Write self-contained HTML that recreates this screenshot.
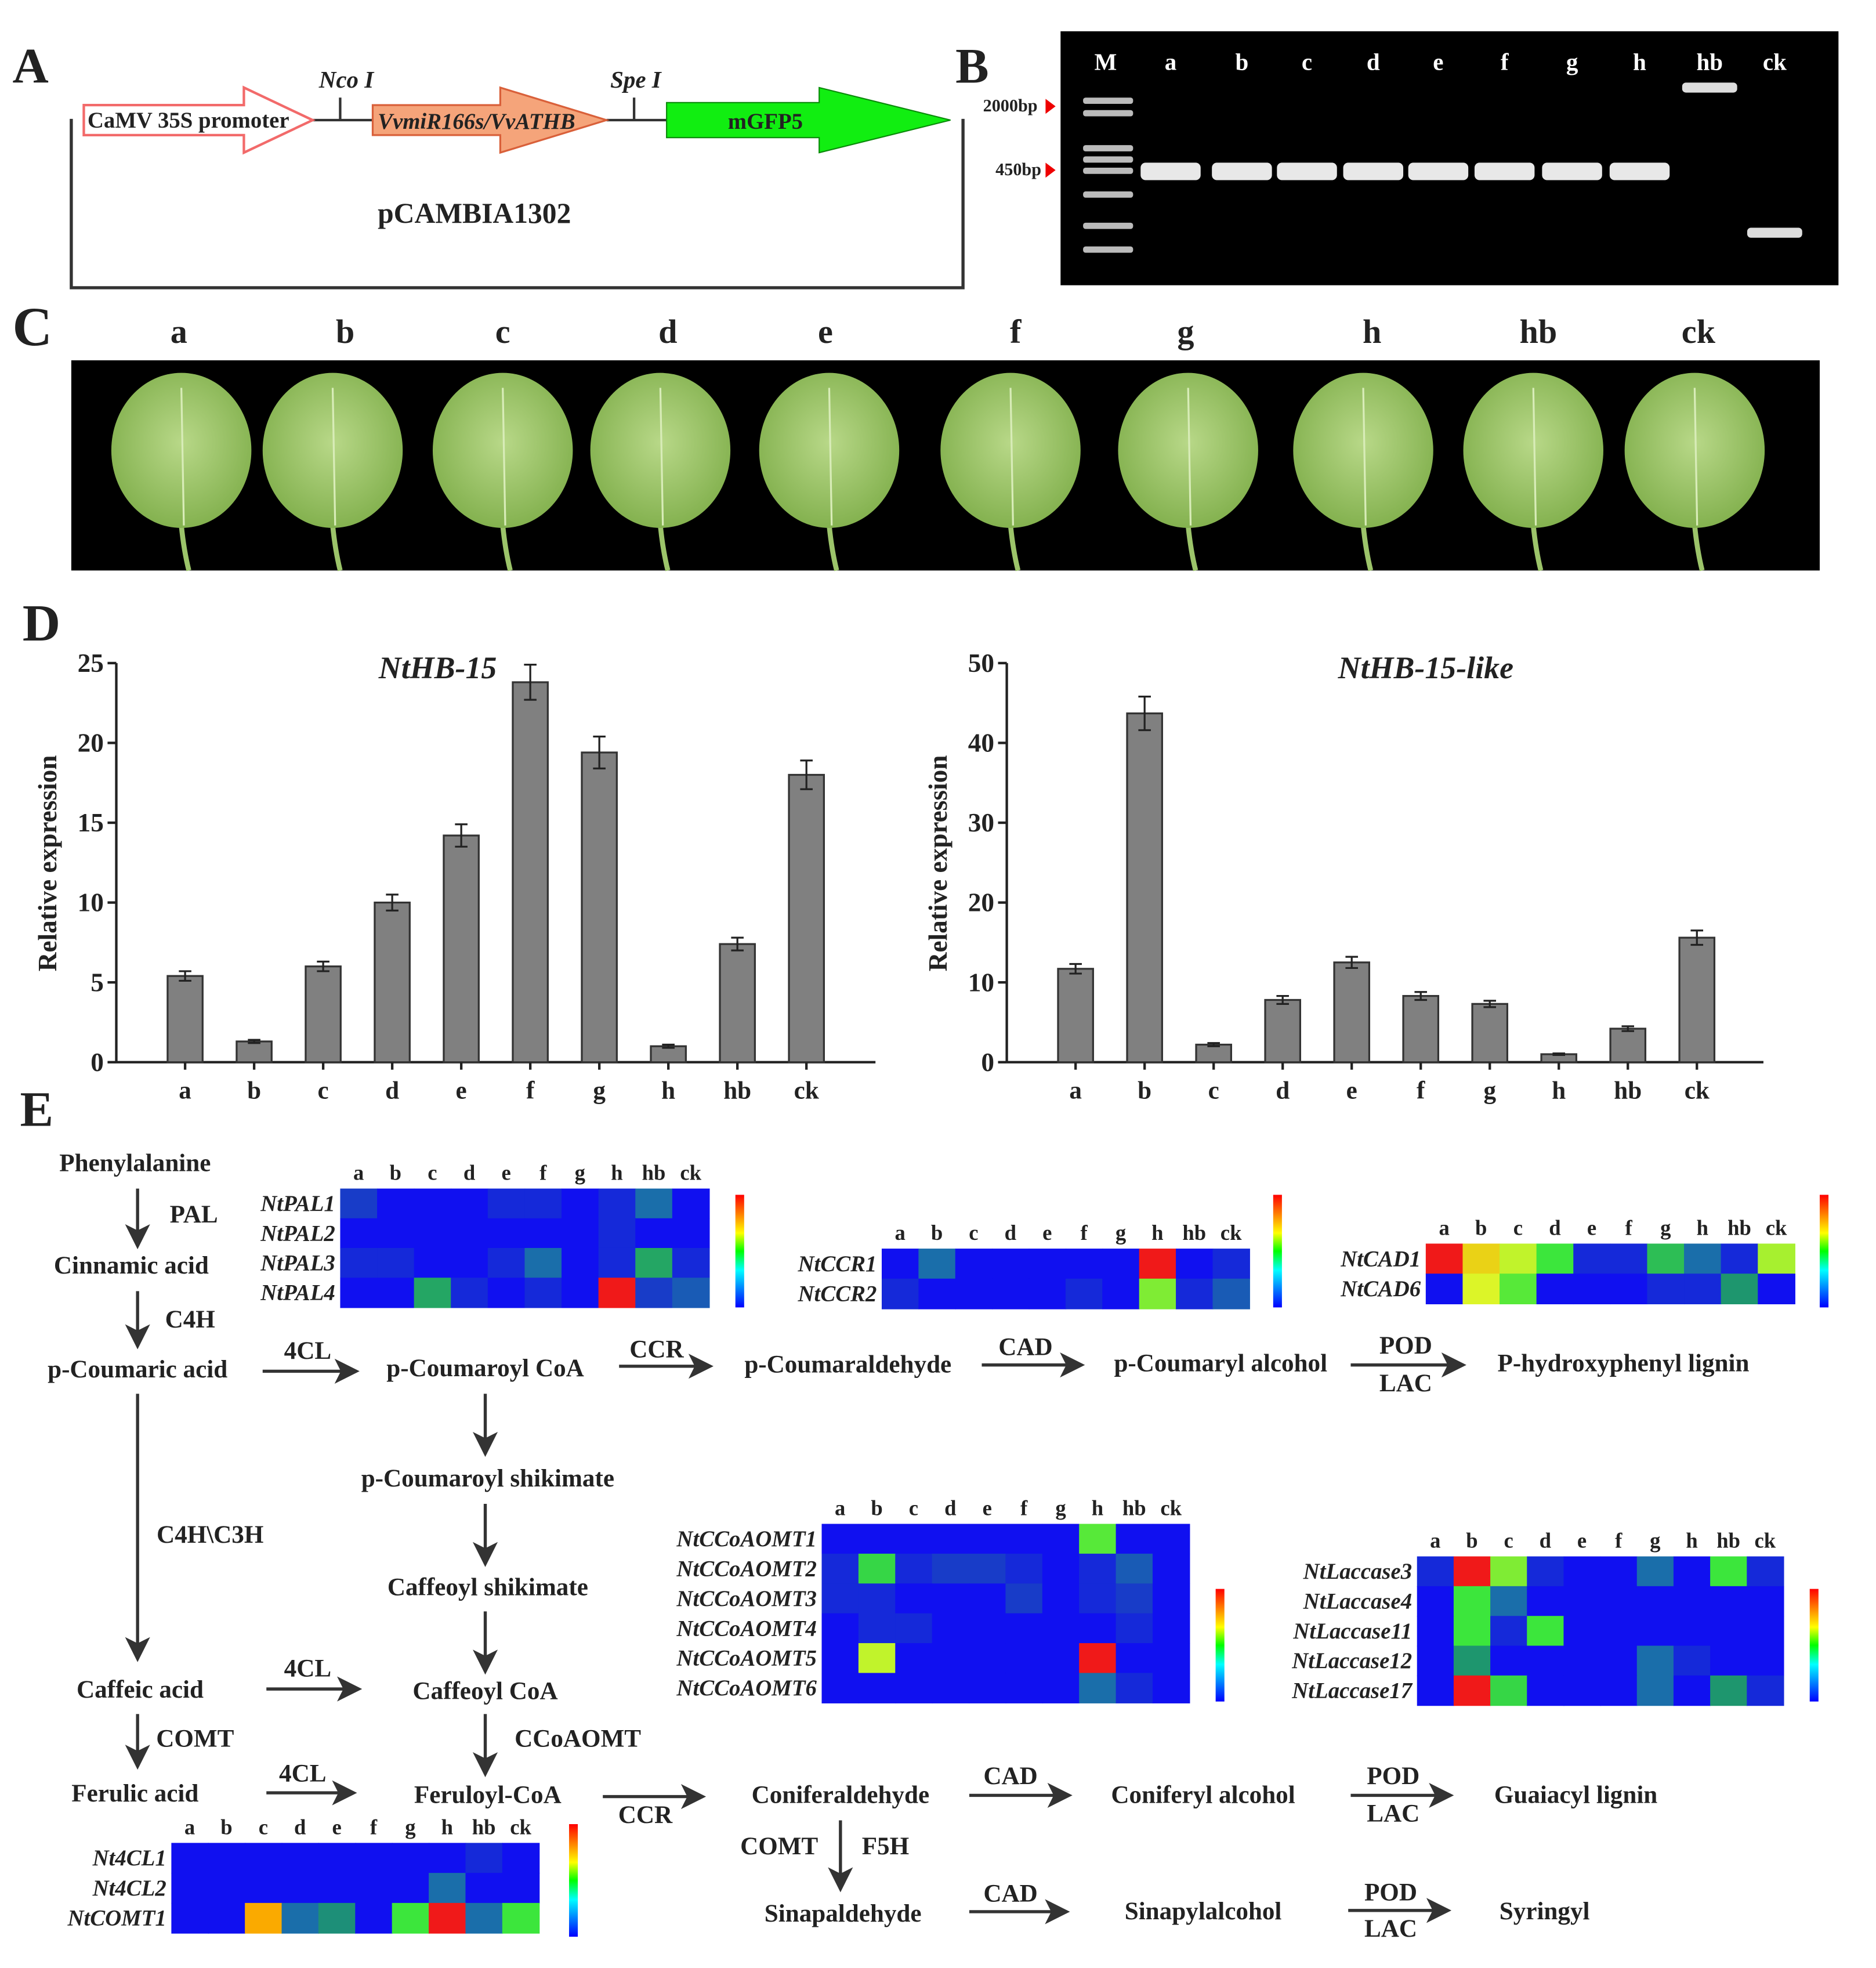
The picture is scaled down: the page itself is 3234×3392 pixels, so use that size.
<!DOCTYPE html>
<html><head><meta charset="utf-8"><style>
html,body{margin:0;padding:0;background:#fff}
svg{display:block}
text{font-family:"Liberation Serif",serif;font-weight:bold;fill:#222}
</style></head><body>
<svg id="fig" width="3234" height="3392" viewBox="0 0 1500 1573" preserveAspectRatio="none" xmlns="http://www.w3.org/2000/svg">
<defs>
<marker id="ah" markerWidth="8" markerHeight="8" refX="7" refY="4" orient="auto"><path d="M0,0 L8,4 L0,8 L2,4z" fill="#333"/></marker>
<radialGradient id="leafg" cx="50%" cy="45%" r="60%"><stop offset="0" stop-color="#b8d888"/><stop offset="1" stop-color="#7fae4a"/></radialGradient>
<linearGradient id="cbar" x1="0" y1="1" x2="0" y2="0"><stop offset="0" stop-color="#00f"/><stop offset="0.33" stop-color="#0ff"/><stop offset="0.5" stop-color="#0f0"/><stop offset="0.66" stop-color="#ff0"/><stop offset="1" stop-color="#f00"/></linearGradient>
</defs>
<g>
<text x="10" y="66" font-size="40">A</text>
<path d="M57,95 V230 H770 V95" fill="none" stroke="#333" stroke-width="2.5"/>
<line x1="250" y1="96" x2="298" y2="96" stroke="#333" stroke-width="2"/>
<line x1="485" y1="96" x2="533" y2="96" stroke="#333" stroke-width="2"/>
<line x1="272" y1="78" x2="272" y2="96" stroke="#333" stroke-width="2"/>
<line x1="507" y1="78" x2="507" y2="96" stroke="#333" stroke-width="2"/>
<text x="255" y="70" font-size="19" font-style="italic">Nco I</text>
<text x="488" y="70" font-size="19" font-style="italic">Spe I</text>
<path d="M67,84 H195 V70 L250,96 L195,122 V108 H67z" fill="#fff" stroke="#f26a6a" stroke-width="2"/>
<text x="70" y="102" font-size="18">CaMV 35S promoter</text>
<path d="M298,84 H400 V70 L485,96 L400,122 V108 H298z" fill="#f5a47a" stroke="#d9603a" stroke-width="1.5"/>
<text x="302" y="103" font-size="18" font-style="italic">VvmiR166s/VvATHB</text>
<path d="M533,82 H655 V70 L760,96 L655,122 V110 H533z" fill="#11ee11" stroke="#0a8a0a" stroke-width="1"/>
<text x="582" y="103" font-size="18">mGFP5</text>
<text x="302" y="178" font-size="23">pCAMBIA1302</text>
</g>
<g id="gel">
<text x="764" y="66" font-size="40">B</text>
<rect x="848" y="25" width="622" height="203" fill="#000"/>
<text x="786" y="89" font-size="14">2000bp</text>
<text x="796" y="140" font-size="14">450bp</text>
<path d="M836,79 l8,6 l-8,6z M836,130 l8,6 l-8,6z" fill="#e00"/>
</g>
<g id="leaves">
<text x="10" y="276" font-size="44">C</text>
<rect x="57" y="288" width="1398" height="168" fill="#000"/>
</g>
<g id="panelD">
<text x="18" y="512" font-size="42">D</text>
</g>
<g id="panelE">
<text x="16" y="900" font-size="40">E</text>
</g>
</svg>
<script>
const NS="http://www.w3.org/2000/svg";
function mk(parent,tag,attrs,txt){const e=document.createElementNS(NS,tag);for(const k in attrs)e.setAttribute(k,attrs[k]);if(txt!==undefined)e.textContent=txt;parent.appendChild(e);return e;}

const gelLanes=["M","a","b","c","d","e","f","g","h","hb","ck"];
const gelX=[884,936,993,1045,1098,1150,1203,1257,1311,1367,1419];
const gel=document.getElementById('gel');
gelLanes.forEach((l,i)=>{
  const t=mk(gel,'text',{x:gelX[i],y:56,'font-size':19,'text-anchor':'middle',style:'fill:#fff'},l);
  
  
  if(i===0){[78,88,116,125,134,153,178,197].forEach(y=>{mk(gel,'rect',{x:866,y:y,width:40,height:5,fill:'#bbb',rx:2});});}
  else if(l==='hb'){mk(gel,'rect',{x:gelX[i]-22,y:66,width:44,height:8,fill:'#ddd',rx:3});}
  else if(l==='ck'){mk(gel,'rect',{x:gelX[i]-22,y:182,width:44,height:8,fill:'#ddd',rx:3});}
  else {mk(gel,'rect',{x:gelX[i]-24,y:130,width:48,height:14,fill:'#e8e8e8',rx:4});}
});

const leafLabels=["a","b","c","d","e","f","g","h","hb","ck"];
const leafLabelX=[143,276,402,534,660,812,948,1097,1230,1358];
const leafX=[145,266,402,528,663,808,950,1090,1226,1355];
const lv=document.getElementById('leaves');
leafLabels.forEach((l,i)=>{
  const t=mk(lv,'text',{x:leafLabelX[i],y:274,'font-size':27,'text-anchor':'middle'},l);
  
  
  const cx=leafX[i];
  mk(lv,'path',{d:`M${cx},420 Q${cx+2},440 ${cx+6},456`,stroke:'#9cc46a','stroke-width':4,fill:'none'});
  const e=mk(lv,'ellipse',{cx:cx,cy:360,rx:56,ry:62,fill:'url(#leafg)'});
  
  
  mk(lv,'line',{x1:cx,y1:310,x2:cx+2,y2:420,stroke:'#d8ecb8','stroke-width':1.5});
});

const cats=["a","b","c","d","e","f","g","h","hb","ck"];
const hb15=[5.4,1.3,6.0,10.0,14.2,23.8,19.4,1.0,7.4,18.0];
const hb15Err=[0.3,0.1,0.3,0.5,0.7,1.1,1.0,0.1,0.4,0.9];
const hb15Ticks=[0,5,10,15,20,25];
const hb15like=[11.7,43.7,2.2,7.8,12.5,8.3,7.3,1.0,4.2,15.6];
const hb15likeErr=[0.6,2.1,0.2,0.5,0.7,0.5,0.4,0.1,0.3,0.9];
const hb15likeTicks=[0,10,20,30,40,50];

const D=document.getElementById('panelD');
function barChart(cfg){
  const g=mk(D,'g',{});
  
  
  const x0=cfg.x0,x1=cfg.x1,yb=849,yt=530,max=cfg.ticks[cfg.ticks.length-1];
  const ys=v=>yb-(v/max)*(yb-yt);
  const xs=i=>x0+55+i*55.2;
  mk(g,'line',{x1:x0,y1:yt,x2:x0,y2:yb,stroke:'#222','stroke-width':2});
  mk(g,'line',{x1:x0,y1:yb,x2:x1,y2:yb,stroke:'#222','stroke-width':2});
  cfg.ticks.forEach(t=>{
    mk(g,'line',{x1:x0-7,y1:ys(t),x2:x0,y2:ys(t),stroke:'#222','stroke-width':2});
    const tl=mk(g,'text',{x:x0-10,y:ys(t)+7,'font-size':21,'text-anchor':'end'},t);
    
    
  });
  cats.forEach((c,i)=>{
    const v=cfg.vals[i],e=cfg.errs[i],cx=xs(i);
    const b=mk(g,'rect',{x:cx-14,y:ys(v),width:28,height:yb-ys(v),fill:'#808080',stroke:'#333','stroke-width':1.5});
    
    
    mk(g,'path',{d:`M${cx},${ys(v+e)}V${ys(v-e)}M${cx-5},${ys(v+e)}H${cx+5}M${cx-5},${ys(v-e)}H${cx+5}`,stroke:'#222','stroke-width':1.5,fill:'none'});
    mk(g,'line',{x1:cx,y1:yb,x2:cx,y2:yb+6,stroke:'#222','stroke-width':2});
    const xl=mk(g,'text',{x:cx,y:878,'font-size':20,'text-anchor':'middle'},c);
    
    
  });
  const tt=mk(g,'text',{x:cfg.tx,y:542,'font-size':25,'font-style':'italic','text-anchor':'middle'},cfg.title);
  
  
  const yl=mk(g,'text',{x:0,y:0,'font-size':21,'text-anchor':'middle',transform:`translate(${x0-48},690) rotate(-90)`},'Relative expression');
  
  
}
barChart({name:'nthb15-chart',x0:93,x1:700,ticks:hb15Ticks,vals:hb15,errs:hb15Err,title:'NtHB-15',tx:350});
barChart({name:'nthb15like-chart',x0:805,x1:1410,ticks:hb15likeTicks,vals:hb15like,errs:hb15likeErr,title:'NtHB-15-like',tx:1140});

const palGenes=["NtPAL1","NtPAL2","NtPAL3","NtPAL4"];
const palVals=[[0.2,0.13,0.13,0.13,0.17,0.17,0.13,0.17,0.28,0.13],[0.13,0.13,0.13,0.13,0.13,0.13,0.13,0.17,0.13,0.13],[0.17,0.17,0.13,0.13,0.17,0.28,0.13,0.17,0.42,0.17],[0.13,0.13,0.42,0.17,0.13,0.17,0.13,0.88,0.2,0.25]];
const ccrGenes=["NtCCR1","NtCCR2"];
const ccrVals=[[0.13,0.28,0.13,0.13,0.13,0.13,0.13,0.88,0.13,0.17],[0.17,0.13,0.13,0.13,0.13,0.17,0.13,0.55,0.17,0.25]];
const cadGenes=["NtCAD1","NtCAD6"];
const cadVals=[[0.88,0.68,0.6,0.5,0.17,0.17,0.45,0.28,0.17,0.58],[0.13,0.62,0.52,0.13,0.13,0.13,0.17,0.17,0.4,0.13]];
const omtGenes=["NtCCoAOMT1","NtCCoAOMT2","NtCCoAOMT3","NtCCoAOMT4","NtCCoAOMT5","NtCCoAOMT6"];
const omtVals=[[0.13,0.13,0.13,0.13,0.13,0.13,0.13,0.52,0.13,0.13],[0.17,0.48,0.17,0.2,0.2,0.17,0.13,0.17,0.25,0.13],[0.17,0.17,0.13,0.13,0.13,0.2,0.13,0.17,0.2,0.13],[0.13,0.17,0.17,0.13,0.13,0.13,0.13,0.13,0.17,0.13],[0.13,0.6,0.13,0.13,0.13,0.13,0.13,0.88,0.13,0.13],[0.13,0.13,0.13,0.13,0.13,0.13,0.13,0.28,0.17,0.13]];
const lacGenes=["NtLaccase3","NtLaccase4","NtLaccase11","NtLaccase12","NtLaccase17"];
const lacVals=[[0.17,0.88,0.55,0.17,0.13,0.13,0.28,0.13,0.5,0.17],[0.13,0.5,0.28,0.13,0.13,0.13,0.13,0.13,0.13,0.13],[0.13,0.5,0.17,0.5,0.13,0.13,0.13,0.13,0.13,0.13],[0.13,0.4,0.13,0.13,0.13,0.13,0.28,0.17,0.13,0.13],[0.13,0.88,0.48,0.13,0.13,0.13,0.28,0.13,0.4,0.17]];
const clGenes=["Nt4CL1","Nt4CL2","NtCOMT1"];
const clVals=[[0.13,0.13,0.13,0.13,0.13,0.13,0.13,0.13,0.17,0.13],[0.13,0.13,0.13,0.13,0.13,0.13,0.13,0.28,0.13,0.13],[0.13,0.13,0.75,0.28,0.38,0.13,0.5,0.88,0.28,0.5]];

const E=document.getElementById('panelE');
const cmStops=[[0.13,[16,16,240]],[0.2,[24,60,200]],[0.28,[26,110,170]],[0.4,[30,150,110]],[0.5,[60,230,60]],[0.62,[220,245,40]],[0.75,[250,170,0]],[0.88,[240,25,25]]];
function cmap(v){
  if(v<=cmStops[0][0])return `rgb(${cmStops[0][1]})`;
  for(let k=1;k<cmStops.length;k++){
    if(v<=cmStops[k][0]){const a=cmStops[k-1],b=cmStops[k],t=(v-a[0])/(b[0]-a[0]);
      return `rgb(${a[1].map((c,j)=>Math.round(c+(b[1][j]-c)*t)).join(',')})`;}
  }
  return `rgb(${cmStops[cmStops.length-1][1]})`;
}
function heatmap(name,genes,vals,x,y,w,h,cbx,cby,cbh){
  const g=mk(E,'g',{});
  
  
  const cw=w/10,rh=h/genes.length;
  cats.forEach((c,j)=>{const t=mk(g,'text',{x:x+cw*(j+0.5),y:y-7,'font-size':17,'text-anchor':'middle'},c);
    
    });
  genes.forEach((gn,i)=>{
    const t=mk(g,'text',{x:x-4,y:y+rh*(i+0.5)+6,'font-size':18,'font-style':'italic','text-anchor':'end'},gn);
    
    
    vals[i].forEach((v,j)=>{
      const r=mk(g,'rect',{x:x+cw*j,y:y+rh*i,width:cw+0.5,height:rh+0.5,fill:cmap(v)});
      
      
    });
  });
  const cb=mk(g,'rect',{x:cbx,y:cby,width:7,height:cbh,fill:'url(#cbar)'});
  
  
}
heatmap('pal-heatmap',palGenes,palVals,272,950,295,95,588,955,90);
heatmap('ccr-heatmap',ccrGenes,ccrVals,705,998,294,48,1018,955,90);
heatmap('cad-heatmap',cadGenes,cadVals,1140,994,295,48,1455,955,90);
heatmap('ccoaomt-heatmap',omtGenes,omtVals,657,1218,294,143,972,1270,90);
heatmap('laccase-heatmap',lacGenes,lacVals,1133,1244,293,119,1447,1270,90);
heatmap('4cl-comt-heatmap',clGenes,clVals,137,1473,294,72,455,1458,90);

const labels=[
 ["Phenylalanine",108,936],["Cinnamic acid",105,1018],["p-Coumaric acid",110,1101],["p-Coumaroyl CoA",388,1100],
 ["p-Coumaraldehyde",678,1097],["p-Coumaryl alcohol",976,1096],["P-hydroxyphenyl lignin",1298,1096],
 ["p-Coumaroyl shikimate",390,1188],["Caffeoyl shikimate",390,1275],["Caffeic acid",112,1357],["Caffeoyl CoA",388,1358],
 ["Ferulic acid",108,1440],["Feruloyl-CoA",390,1441],["Coniferaldehyde",672,1441],["Coniferyl alcohol",962,1441],
 ["Guaiacyl lignin",1260,1441],["Sinapaldehyde",674,1536],["Sinapylalcohol",962,1534],["Syringyl",1235,1534],
 ["PAL",155,977],["C4H",152,1061],["4CL",246,1086],["CCR",525,1085],["CAD",820,1083],["POD",1124,1082],["LAC",1124,1112],
 ["C4H\\C3H",168,1233],["4CL",246,1340],["COMT",156,1396],["CCoAOMT",462,1396],["4CL",242,1424],["CCR",516,1457],
 ["CAD",808,1426],["POD",1114,1426],["LAC",1114,1456],["COMT",623,1482],["F5H",708,1482],["CAD",808,1520],["POD",1112,1519],["LAC",1112,1548]
];
labels.forEach(l=>{const t=mk(E,'text',{x:l[1],y:l[2],'font-size':20,'text-anchor':'middle'},l[0]);
  
  });
const arrows=[[110,950,110,996],[110,1032,110,1076],[210,1096,285,1096],[495,1092,568,1092],[785,1091,865,1091],[1080,1091,1170,1091],
 [388,1114,388,1162],[388,1202,388,1250],[110,1114,110,1326],[388,1288,388,1336],[213,1350,287,1350],[110,1370,110,1412],
 [388,1370,388,1418],[213,1433,283,1433],[482,1436,562,1436],[775,1435,855,1435],[1080,1435,1160,1435],[672,1455,672,1510],
 [775,1528,853,1528],[1078,1527,1158,1527]];
arrows.forEach(a=>{const l=mk(E,'line',{x1:a[0],y1:a[1],x2:a[2],y2:a[3],stroke:'#333','stroke-width':2.5,'marker-end':'url(#ah)'});
  
  });
</script>
</body></html>
